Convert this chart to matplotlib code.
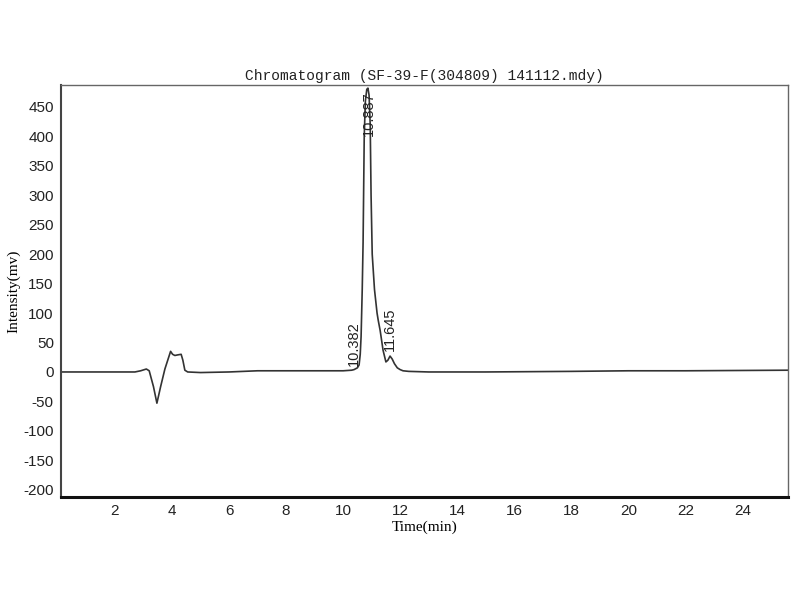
import matplotlib
matplotlib.use("Agg")
import matplotlib.pyplot as plt

plt.rcParams["axes.unicode_minus"] = False

# Chromatogram trace (time in min, intensity in mV)
time = [0.1, 1.0, 2.0, 2.7, 2.9, 3.1, 3.2, 3.35, 3.47, 3.6, 3.75, 3.95, 4.02, 4.1, 4.2, 4.32, 4.38, 4.45, 4.55,
        5.0, 6.0, 7.0, 8.0, 9.0, 10.0, 10.3, 10.382, 10.5, 10.56, 10.6, 10.63, 10.67, 10.7, 10.74, 10.78,
        10.83, 10.87, 10.91, 10.95, 10.98, 11.02, 11.1, 11.19, 11.23, 11.3, 11.4, 11.5, 11.57, 11.645,
        11.72, 11.8, 11.9, 12.0, 12.1, 12.3, 13.0, 15.0, 18.0, 20.0, 22.0, 25.6]
intensity = [0, 0, 0, 0, 2, 5, 2, -25, -53, -25, 5, 35, 30, 28, 29, 30, 20, 3, 0,
             -1, 0, 2, 2, 2, 2, 3, 4, 7, 12, 30, 60, 140, 220, 400, 460,
             480, 482, 470, 420, 300, 200, 140, 100, 88, 70, 37, 17, 20, 27,
             22, 14, 7, 4, 2, 1, 0, 0, 1, 2, 2, 3]

peak_times = [10.382, 10.887, 11.645]
peak_labels = ["10.382", "10.887", "11.645"]
peak_label_y = [10, 400, 36]

x_ticks = [2, 4, 6, 8, 10, 12, 14, 16, 18, 20, 22, 24]
y_ticks = [-200, -150, -100, -50, 0, 50, 100, 150, 200, 250, 300, 350, 400, 450]

fig = plt.figure(figsize=(8, 6), dpi=100)
ax = fig.add_axes([0.076, 0.172, 0.909, 0.686])
ax.plot(time, intensity, color="#333333", lw=1.2)
ax.set_xlim(0.1, 25.6)
ax.set_ylim(-212, 487)

for t, lab, yl in zip(peak_times, peak_labels, peak_label_y):
    ax.text(t, yl, lab, rotation=90, ha="center", va="bottom", fontsize=10.5,
            family="Liberation Sans", color="#222222")

ax.set_xticks(x_ticks)
ax.set_yticks(y_ticks)
ax.tick_params(length=0, labelsize=11, pad=5)
for lab in ax.get_xticklabels() + ax.get_yticklabels():
    lab.set_family("Liberation Sans")
    lab.set_color("#222222")

for side in ["top", "right"]:
    ax.spines[side].set_color("#666666")
    ax.spines[side].set_linewidth(1.0)
ax.spines["left"].set_color("#444444")
ax.spines["left"].set_linewidth(1.5)
ax.spines["bottom"].set_color("#111111")
ax.spines["bottom"].set_linewidth(2.2)

ax.set_title("Chromatogram (SF-39-F(304809) 141112.mdy)", family="Liberation Mono",
             fontsize=10.5, color="#222222", pad=4)
ax.set_xlabel("Time(min)", family="Liberation Serif", fontsize=11, labelpad=2)
ax.set_ylabel("Intensity(mv)", family="Liberation Serif", fontsize=11, labelpad=2)

fig.savefig("out.png", dpi=100)
